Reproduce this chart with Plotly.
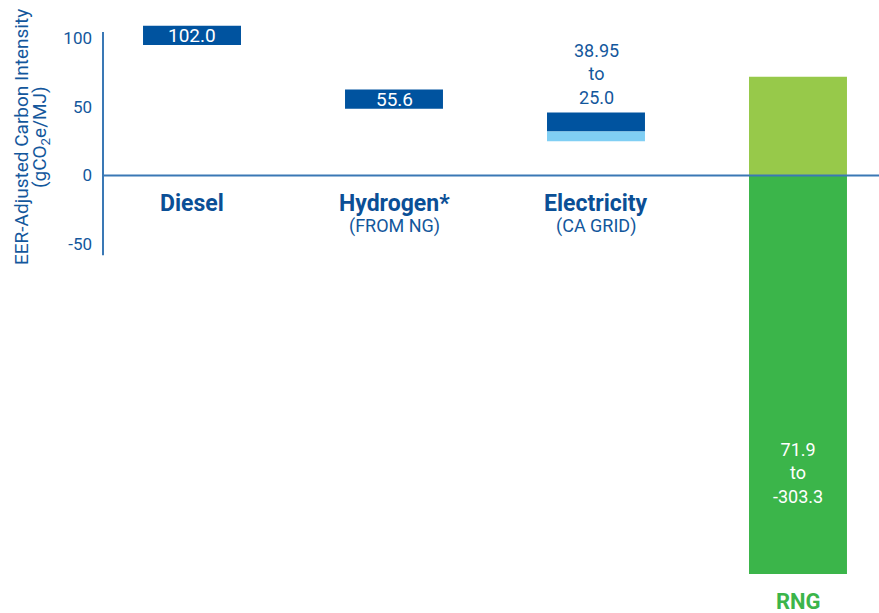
import plotly.graph_objects as go

categories = ["Diesel", "Hydrogen*", "Electricity", "RNG"]
subtitles = ["", "(FROM NG)", "(CA GRID)", ""]
point_values = [102.0, 55.6, None, None]      # single-value fuels
range_high = [None, None, 38.95, 71.9]        # ranged fuels
range_low = [None, None, 25.0, -303.3]
tick_vals = [100, 50, 0, -50]
tick_text = ["100", "50", "0", "-50"]

DARK = "#00539F"
LIGHT_BLUE = "#80CFF4"
LIGHT_GREEN = "#97C94A"
GREEN = "#3BB54A"
TXT = "#13579C"
AXIS = "#3A78B5"
BAND = 14  # thickness of the point markers in data units
BW = 0.485
FONT = "Roboto"
H = 613
MB = 39
PH = H - MB  # plot-area height (top margin 0)


def py(px):
    """paper y from a pixel row"""
    return (PH - px) / PH


def ann(**kw):
    kw.setdefault("showarrow", False)
    kw.setdefault("xanchor", "center")
    kw.setdefault("yanchor", "middle")
    fig.add_annotation(**kw)


fig = go.Figure()

# point-value bars (Diesel, Hydrogen)
for c, v in zip(categories, point_values):
    if v is None:
        continue
    fig.add_trace(go.Bar(x=[c], y=[BAND], base=[v - BAND / 2], width=BW,
                         marker=dict(color=DARK, line=dict(width=0)), showlegend=False,
                         hoverinfo="skip"))
    ann(x=c, y=v, text=f"{v:.1f}", font=dict(family=FONT, size=19, color="white"))

# Electricity: dark marker at the high value, light blue down to the low value
ei = 2
hi, lo = range_high[ei], range_low[ei]
fig.add_trace(go.Bar(x=[categories[ei]], y=[BAND], base=[hi - BAND / 2], width=BW,
                     marker=dict(color=DARK, line=dict(width=0)), showlegend=False))
fig.add_trace(go.Bar(x=[categories[ei]], y=[(hi - BAND / 2) - lo], base=[lo], width=BW,
                     marker=dict(color=LIGHT_BLUE, line=dict(width=0)), showlegend=False))
ann(x=categories[ei], y=py(74), yref="paper", text=f"{hi:.2f}<br>to<br>{lo:.1f}",
    font=dict(family=FONT, size=18, color=TXT))

# RNG: positive part light green, negative part green
ri = 3
hi, lo = range_high[ri], range_low[ri]
fig.add_trace(go.Bar(x=[categories[ri]], y=[hi], base=[0], width=BW,
                     marker=dict(color=LIGHT_GREEN, line=dict(width=0)), showlegend=False))
fig.add_trace(go.Bar(x=[categories[ri]], y=[-lo], base=[lo], width=BW,
                     marker=dict(color=GREEN, line=dict(width=0)), showlegend=False))
ann(x=categories[ri], y=py(473), yref="paper", text=f"{hi:.1f}<br>to<br>{lo:.1f}",
    font=dict(family=FONT, size=18, color="white"))

# category labels
for c, s in zip(categories[:3], subtitles[:3]):
    ann(x=c, y=py(203), yref="paper", text=f"<b>{c}</b>",
        font=dict(family=FONT, size=23, color="#0B4F96"))
    if s:
        ann(x=c, y=py(226), yref="paper", text=s,
            font=dict(family=FONT, size=18, color=TXT))
ann(x=categories[3], y=py(601), yref="paper", text=f"<b>{categories[3]}</b>",
    font=dict(family=FONT, size=22, color=GREEN))

# y axis title (two rotated lines)
for xpx, t in [(21, "EER-Adjusted Carbon Intensity"), (40, "(gCO<sub>2</sub>e/MJ)")]:
    ann(x=(xpx - 103) / 776, xref="paper", y=py(137), yref="paper",
        text=t, textangle=-90, font=dict(family=FONT, size=19, color=TXT))

# axis lines
fig.add_shape(type="line", xref="paper", x0=0, x1=1, yref="y", y0=0, y1=0,
              line=dict(color=AXIS, width=2), layer="above")
fig.add_shape(type="line", xref="paper", x0=0, x1=0, yref="y", y0=-58, y1=104.5,
              line=dict(color=AXIS, width=2), layer="above")

fig.update_layout(
    width=879, height=H,
    margin=dict(l=103, r=0, t=0, b=MB),
    plot_bgcolor="white", paper_bgcolor="white",
    barmode="overlay",
    xaxis=dict(visible=False, type="category", categoryorder="array",
               categoryarray=categories, range=[-0.4406, 3.401]),
    yaxis=dict(range=[-290.2, 127.8], tickvals=tick_vals, ticktext=tick_text,
               showgrid=False, zeroline=False, showline=False, ticks="",
               ticklabelstandoff=10,
               tickfont=dict(family=FONT, size=17, color=TXT)),
    font=dict(family=FONT),
)

fig.write_html("out.html")
